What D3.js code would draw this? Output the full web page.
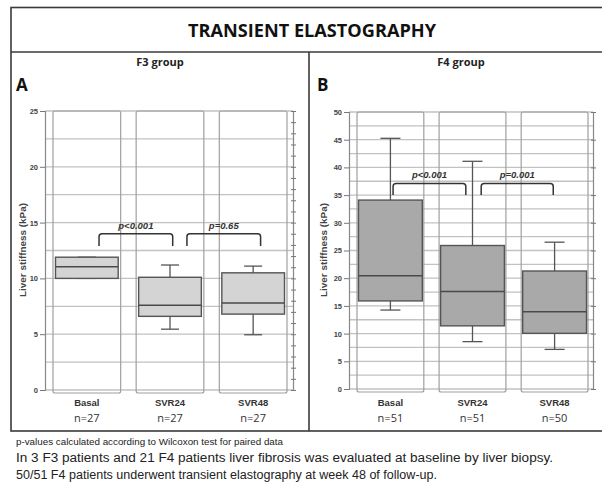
<!DOCTYPE html>
<html><head><meta charset="utf-8">
<script src="https://cdn.jsdelivr.net/npm/d3@7"></script>
<style>body{margin:0;background:#fff}svg{display:block}</style>
</head><body>
<script>
// ---- data ----
const categories = ["Basal", "SVR24", "SVR48"];
const nLabelsA = ["n=27", "n=27", "n=27"];
const nLabelsB = ["n=51", "n=51", "n=50"];
// F3 group (panel A), liver stiffness kPa
const minA = [10.0, 5.45, 4.95];
const q1A  = [10.0, 6.6, 6.8];
const medA = [11.05, 7.6, 7.8];
const q3A  = [11.9, 10.1, 10.5];
const maxA = [11.9, 11.2, 11.1];
// F4 group (panel B)
const minB = [14.25, 8.55, 7.15];
const q1B  = [15.9, 11.4, 10.05];
const medB = [20.45, 17.6, 13.95];
const q3B  = [34.1, 25.9, 21.3];
const maxB = [45.25, 41.1, 26.5];
const ticksA = [0, 5, 10, 15, 20, 25];
const ticksB = [0, 5, 10, 15, 20, 25, 30, 35, 40, 45, 50];
const pLabelsA = ["p<0.001", "p=0.65"];
const pLabelsB = ["p<0.001", "p=0.001"];
const bracketValsA = [14.0, 12.9]; // top, end
const bracketValsB = [37.1, 35.0];

const W = 602, H = 496;
const svg = d3.select("body").append("svg").attr("width", W).attr("height", H);
const FONT = "'Liberation Sans', Arial, sans-serif";
const TFONT = "'Open Sans', 'Liberation Sans', sans-serif";

// frame
svg.append("rect").attr("x", 11).attr("y", 7.5).attr("width", 600).attr("height", 423.5)
  .attr("fill", "none").attr("stroke", "#3a3a3a").attr("stroke-width", 1.6);
svg.append("line").attr("x1", 11).attr("x2", 602).attr("y1", 52).attr("y2", 52)
  .attr("stroke", "#3a3a3a").attr("stroke-width", 1.6);
svg.append("line").attr("x1", 309).attr("x2", 309).attr("y1", 52).attr("y2", 431)
  .attr("stroke", "#3a3a3a").attr("stroke-width", 1.6);

svg.append("text").attr("x", 312).attr("y", 37).attr("text-anchor", "middle")
  .attr("font-family", TFONT).attr("font-weight", "bold").attr("font-size", 17)
  .attr("textLength", 248).attr("lengthAdjust", "spacingAndGlyphs")
  .attr("fill", "#111").text("TRANSIENT ELASTOGRAPHY");

function panel(cfg) {
  const g = svg.append("g");
  const y = d3.scaleLinear().domain([0, cfg.ymax]).range([cfg.y0, cfg.y1]);
  const x = d3.scaleBand().domain(categories).range(cfg.xr).paddingInner(0.186).paddingOuter(0);
  const bw = x.bandwidth();

  g.append("text").attr("x", cfg.groupX).attr("y", 66).attr("text-anchor", "middle")
    .attr("font-family", TFONT).attr("font-weight", "bold").attr("font-size", 11)
    .attr("fill", "#222").text(cfg.group);
  g.append("text").attr("x", cfg.letterX).attr("y", 91)
    .attr("font-family", TFONT).attr("font-weight", "bold").attr("font-size", 17)
    .attr("fill", "#111").text(cfg.letter);

  // horizontal gridlines every 2.5
  const grid = d3.range(0, cfg.ymax + 0.01, 2.5);
  g.selectAll(".grid").data(grid).enter().append("line")
    .attr("x1", cfg.axL).attr("x2", cfg.axR)
    .attr("y1", d => y(d)).attr("y2", d => y(d))
    .attr("stroke", "#c2c2c2").attr("stroke-width", 1.3);

  // columns
  g.selectAll(".col").data(categories).enter().append("rect")
    .attr("x", d => x(d)).attr("width", bw)
    .attr("y", cfg.y1).attr("height", cfg.y0 - cfg.y1 + 3)
    .attr("rx", 2).attr("fill", "none").attr("stroke", "#a0a0a0").attr("stroke-width", 1.2);

  // left axis
  const axL = d3.axisLeft(y).tickValues(cfg.ticks).tickSize(5).tickFormat(d3.format("d"));
  const gl = g.append("g").attr("transform", `translate(${cfg.axL},0)`).call(axL);
  gl.select(".domain").attr("stroke", "#888").attr("stroke-width", 1.2);
  gl.selectAll(".tick line").attr("stroke", "#777");
  gl.selectAll(".tick text").attr("font-family", FONT).attr("font-weight", "bold")
    .attr("font-size", 7.5).attr("fill", "#444").attr("x", -7);
  // right axis
  const axR = d3.axisRight(y).tickValues(cfg.rticks).tickSize(3).tickFormat("");
  const gr = g.append("g").attr("transform", `translate(${cfg.axR},0)`).call(axR);
  gr.select(".domain").attr("stroke", "#888").attr("stroke-width", 1.2);
  gr.selectAll(".tick line").attr("stroke", "#777").attr("x1", -2);

  const inset = cfg.inset;
  const idx = categories.map((c, i) => i);
  // whiskers
  g.selectAll(".wh").data(idx).enter().append("line")
    .attr("x1", i => x(categories[i]) + bw / 2).attr("x2", i => x(categories[i]) + bw / 2)
    .attr("y1", i => y(cfg.max[i])).attr("y2", i => y(cfg.min[i]))
    .attr("stroke", "#555").attr("stroke-width", 1.3);
  [cfg.max, cfg.min].forEach(arr => {
    g.selectAll(null).data(idx).enter().append("line")
      .attr("x1", i => x(categories[i]) + bw / 2 - cfg.cap).attr("x2", i => x(categories[i]) + bw / 2 + cfg.cap)
      .attr("y1", i => y(arr[i])).attr("y2", i => y(arr[i]))
      .attr("stroke", "#555").attr("stroke-width", 1.3);
  });
  // boxes
  g.selectAll(".box").data(idx).enter().append("rect")
    .attr("x", i => x(categories[i]) + inset).attr("width", bw - 2 * inset)
    .attr("y", i => y(cfg.q3[i])).attr("height", i => y(cfg.q1[i]) - y(cfg.q3[i]))
    .attr("fill", cfg.fill).attr("stroke", "#555").attr("stroke-width", 1.4);
  g.selectAll(".med").data(idx).enter().append("line")
    .attr("x1", i => x(categories[i]) + inset).attr("x2", i => x(categories[i]) + bw - inset)
    .attr("y1", i => y(cfg.med[i])).attr("y2", i => y(cfg.med[i]))
    .attr("stroke", "#4a4a4a").attr("stroke-width", 1.6);

  // category labels
  g.selectAll(".cl").data(categories).enter().append("text")
    .attr("x", d => x(d) + bw / 2).attr("y", 406).attr("text-anchor", "middle")
    .attr("font-family", FONT).attr("font-weight", "bold").attr("font-size", 9.5)
    .attr("fill", "#333").text(d => d);
  g.selectAll(".nl").data(cfg.n).enter().append("text")
    .attr("x", (d, i) => x(categories[i]) + bw / 2).attr("y", 422).attr("text-anchor", "middle")
    .attr("font-family", TFONT).attr("font-size", 11)
    .attr("fill", "#333").text(d => d);

  // y label
  g.append("text").attr("transform", `translate(${cfg.ylabX},250) rotate(-90)`)
    .attr("text-anchor", "middle").attr("font-family", FONT).attr("font-weight", "bold")
    .attr("font-size", 8.5).attr("textLength", 94).attr("lengthAdjust", "spacingAndGlyphs")
    .attr("fill", "#444").text("Liver stiffness (kPa)");

  // brackets
  const yt = y(cfg.bracket[0]), ye = y(cfg.bracket[1]), r = 3;
  cfg.pl.forEach((lab, k) => {
    const xa = x(categories[k]) + bw * cfg.bfrac[k][0];
    const xb = x(categories[k + 1]) + bw * cfg.bfrac[k][1];
    const p = d3.path();
    p.moveTo(xa, ye); p.lineTo(xa, yt + r); p.quadraticCurveTo(xa, yt, xa + r, yt);
    p.lineTo(xb - r, yt); p.quadraticCurveTo(xb, yt, xb, yt + r); p.lineTo(xb, ye);
    g.append("path").attr("d", p.toString()).attr("fill", "none")
      .attr("stroke", "#333").attr("stroke-width", 1.5);
    g.append("text").attr("x", (xa + xb) / 2).attr("y", yt - 5).attr("text-anchor", "middle")
      .attr("font-family", FONT).attr("font-weight", "bold").attr("font-style", "italic")
      .attr("font-size", 9.5).attr("fill", "#333").text(lab);
  });
}

panel({ group: "F3 group", groupX: 160, letter: "A", letterX: 16,
  ymax: 25, y0: 390, y1: 111, xr: [53, 287], axL: 45, axR: 293, inset: 2.5, cap: 9,
  ticks: ticksA, rticks: d3.range(0, 26, 1), fill: "#d4d4d4",
  min: minA, q1: q1A, med: medA, q3: q3A, max: maxA, n: nLabelsA, ylabX: 26,
  pl: pLabelsA, bracket: bracketValsA, bfrac: [[0.68, 0.54], [0.75, 0.61]] });

panel({ group: "F4 group", groupX: 461, letter: "B", letterX: 317,
  ymax: 50, y0: 389, y1: 112, xr: [357, 588], axL: 349, axR: 593, inset: 1.5, cap: 10,
  ticks: ticksB, rticks: ticksB, fill: "#a9a9a9",
  min: minB, q1: q1B, med: medB, q3: q3B, max: maxB, n: nLabelsB, ylabX: 327,
  pl: pLabelsB, bracket: bracketValsB, bfrac: [[0.54, 0.40], [0.63, 0.48]] });

// footer
const foot = [
  { t: "p-values calculated according to Wilcoxon test for paired data", y: 445, s: 9, w: 267 },
  { t: "In 3 F3 patients and 21 F4 patients liver fibrosis was evaluated at baseline by liver biopsy.", y: 462, s: 12, w: 537 },
  { t: "50/51 F4 patients underwent transient elastography at week 48 of follow-up.", y: 478.5, s: 12, w: 421 }
];
svg.selectAll(".ft").data(foot).enter().append("text")
  .attr("x", 16).attr("y", d => d.y).attr("font-family", FONT).attr("font-size", d => d.s)
  .attr("textLength", d => d.w).attr("lengthAdjust", "spacingAndGlyphs")
  .attr("fill", "#222").text(d => d.t);
</script>
</body></html>
